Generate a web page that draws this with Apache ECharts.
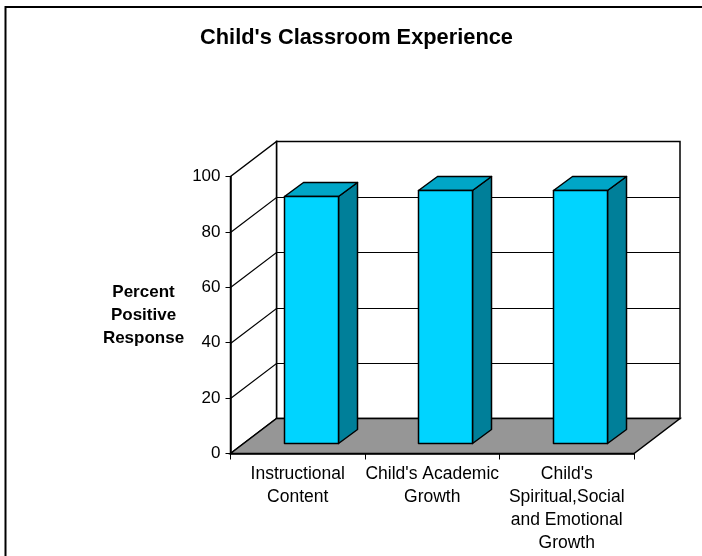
<!DOCTYPE html>
<html>
<head>
<meta charset="utf-8">
<style>
    html, body { margin: 0; padding: 0; background: #fff; }
    #main { width: 702px; height: 556px; }
</style>
<script src="https://cdn.jsdelivr.net/npm/echarts@6/dist/echarts.min.js"></script>
</head>
<body>
<div id="main"></div>
<script>
    var titleText = "Child's Classroom Experience";
    var yTitle = 'Percent\nPositive\nResponse';
    var categories = ['Instructional\nContent', "Child's Academic\nGrowth", "Child's\nSpiritual,Social\nand Emotional\nGrowth"];
    var values = [89, 91, 91];
    var yTicks = [0, 20, 40, 60, 80, 100];

    var fontName = '"Liberation Sans", Arial, sans-serif';
    var depth = [46, -35];      // depth of the 3d box
    var barShift = [13, -11];   // gap between front plane and bar
    var barDepth = [19, -14];
    var lineW = 1.5;

    function pt(p, off) {
        return [p[0] + off[0], p[1] + off[1]];
    }

    function renderBox(params, api) {
        var cs = params.coordSys;
        var left = cs.x, right = cs.x + cs.width, bottom = cs.y + cs.height, top = cs.y;
        var children = [];
        // back wall
        children.push({
            type: 'polygon',
            shape: { points: [pt([left, top], depth), pt([right, top], depth), pt([right, bottom], depth), pt([left, bottom], depth)] },
            style: { fill: '#fff', stroke: '#000', lineWidth: lineW }
        });
        // side wall
        children.push({
            type: 'polygon',
            shape: { points: [[left, top], pt([left, top], depth), pt([left, bottom], depth), [left, bottom]] },
            style: { fill: '#fff', stroke: '#000', lineWidth: lineW }
        });
        // gridlines on both walls
        yTicks.forEach(function (t) {
            if (t === 0 || t === 100) return;
            var y = Math.round(api.coord([0, t])[1]) + 0.5;
            children.push({
                type: 'polyline',
                shape: { points: [[left, y], pt([left, y], depth), pt([right, y], depth)] },
                style: { fill: null, stroke: '#000', lineWidth: 1.2 }
            });
        });
        // floor
        children.push({
            type: 'polygon',
            shape: { points: [[left, bottom], [right, bottom], pt([right, bottom], depth), pt([left, bottom], depth)] },
            style: { fill: '#969696', stroke: '#000', lineWidth: lineW }
        });
        return { type: 'group', children: children };
    }

    function renderBar(params, api) {
        var top = api.coord([api.value(0), api.value(1)]);
        var base = api.coord([api.value(0), 0]);
        var w = api.size([1, 0])[0] * 0.4;
        var x0 = Math.round(top[0] - w / 2 + barShift[0]) + 0.5;
        var x1 = Math.round(top[0] + w / 2 + barShift[0]) + 0.5;
        var y0 = Math.round(top[1] + barShift[1]) + 0.5;
        var y1 = Math.round(base[1] + barShift[1]) + 0.5;
        var tl = [x0, y0], tr = [x1, y0], br = [x1, y1], bl = [x0, y1];
        var border = { stroke: '#000', lineWidth: lineW, lineJoin: 'round' };
        return {
            type: 'group',
            children: [
                { type: 'polygon', shape: { points: [tr, pt(tr, barDepth), pt(br, barDepth), br] }, style: Object.assign({ fill: '#007F99' }, border) },
                { type: 'polygon', shape: { points: [tl, pt(tl, barDepth), pt(tr, barDepth), tr] }, style: Object.assign({ fill: '#00A6C7' }, border) },
                { type: 'polygon', shape: { points: [tl, tr, br, bl] }, style: Object.assign({ fill: '#00D4FF' }, border) }
            ]
        };
    }

    var chart = echarts.init(document.getElementById('main'), null, { renderer: 'canvas' });
    chart.setOption({
        animation: false,
        backgroundColor: '#fff',
        title: {
            text: titleText,
            left: 351.5,
            top: 22,
            textAlign: 'center',
            textStyle: { fontFamily: fontName, fontSize: 21.8, fontWeight: 'bold', color: '#000' }
        },
        grid: { left: 230.5, top: 176.5, width: 403.5, height: 277 },
        xAxis: {
            type: 'category',
            data: categories,
            z: 5,
            axisLine: { lineStyle: { color: '#000', width: lineW } },
            axisTick: { show: true, length: 6, lineStyle: { color: '#000', width: 1 } },
            axisLabel: { interval: 0, margin: 9, lineHeight: 23, color: '#000', fontFamily: fontName, fontSize: 17.5 }
        },
        yAxis: {
            type: 'value',
            min: 0,
            max: 100,
            interval: 20,
            z: 5,
            name: yTitle,
            nameLocation: 'middle',
            nameRotate: 0,
            nameGap: 87,
            nameTextStyle: { align: 'center', verticalAlign: 'middle', lineHeight: 23, padding: [2, 0, 0, 0], color: '#000', fontFamily: fontName, fontSize: 17, fontWeight: 'bold' },
            splitLine: { show: false },
            axisLine: { show: true, lineStyle: { color: '#000', width: lineW } },
            axisTick: { show: true, length: 5, lineStyle: { color: '#000', width: 1 } },
            axisLabel: { margin: 10, color: '#000', fontFamily: fontName, fontSize: 17 }
        },
        graphic: [
            // outer chart frame
            { type: 'polyline', silent: true, shape: { points: [[5.5, 556], [5.5, 7], [702, 7]] }, style: { fill: null, stroke: '#000', lineWidth: 2 } }
        ],
        series: [
            { type: 'custom', z: 1, silent: true, clip: false, renderItem: renderBox, data: [[0, 0]], encode: { x: 0, y: 1 } },
            {
                type: 'custom',
                z: 2,
                silent: true,
                clip: false,
                renderItem: renderBar,
                data: values.map(function (v, i) { return [i, v]; }),
                encode: { x: 0, y: 1 }
            }
        ]
    });
</script>
</body>
</html>
